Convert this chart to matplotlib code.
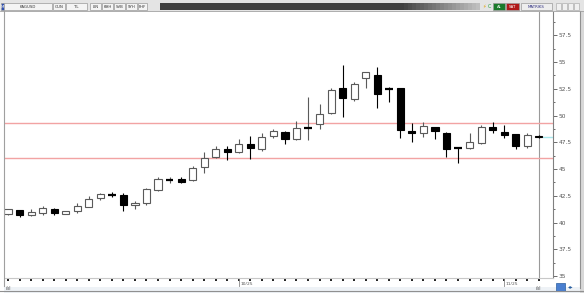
import numpy as np
import matplotlib
matplotlib.use('Agg')
import matplotlib.pyplot as plt
from matplotlib.patches import Rectangle
import matplotlib.transforms as mtransforms

# daily OHLC
opens = [40.80, 41.17, 40.68, 40.86, 41.24, 40.80, 41.08, 41.50, 42.27, 42.62,
         42.57, 41.61, 41.80, 43.04, 43.96, 44.07, 43.98, 45.16, 46.15, 46.90,
         46.62, 47.34, 46.85, 48.05, 48.49, 47.81, 48.84, 49.21, 50.27, 52.55,
         51.52, 53.48, 53.79, 52.47, 52.55, 48.58, 48.40, 48.96, 48.40, 47.03,
         47.00, 47.46, 48.90, 48.49, 48.25, 47.15, 48.12]
highs = [41.30, 41.20, 41.24, 41.55, 41.36, 41.10, 41.80, 42.48, 42.79, 42.88,
         42.73, 41.99, 43.20, 44.23, 44.29, 44.23, 45.29, 46.62, 47.15, 47.15,
         47.78, 48.09, 48.34, 48.74, 48.58, 49.52, 51.70, 51.07, 52.55, 54.72,
         53.16, 54.10, 54.50, 52.70, 52.55, 49.28, 49.43, 48.96, 48.49, 47.03,
         48.34, 49.12, 49.43, 49.12, 48.25, 48.34, 48.15]
lows = [40.75, 40.55, 40.65, 40.68, 40.74, 40.78, 40.86, 41.43, 42.10, 42.36,
        41.10, 41.30, 41.64, 42.98, 43.67, 43.67, 43.88, 44.66, 46.00, 45.85,
        46.53, 45.94, 46.66, 47.95, 47.34, 47.72, 47.72, 48.71, 50.12, 49.89,
        51.36, 52.55, 50.68, 51.30, 47.87, 47.50, 47.97, 47.81, 46.15, 45.60,
        46.85, 47.31, 48.40, 47.87, 46.85, 46.94, 47.95]
closes = [41.24, 40.68, 41.00, 41.36, 40.86, 41.08, 41.57, 42.20, 42.64, 42.58,
          41.64, 41.86, 43.10, 44.04, 44.00, 43.82, 45.13, 46.00, 46.87, 46.62,
          47.34, 47.00, 47.97, 48.57, 47.78, 48.86, 48.88, 50.12, 52.39, 51.61,
          52.95, 54.10, 52.01, 52.43, 48.65, 48.40, 49.02, 48.58, 46.85, 47.00,
          47.56, 48.96, 48.65, 48.18, 47.15, 48.18, 47.97]
date_idx = [20, 43]
date_labels = ['10/25', '11/25']
hlines_lvls = [49.3, 46.03]
yticks = [35, 37.5, 40, 42.5, 45, 47.5, 50, 52.5, 55, 57.5]

W, H = 584, 293
def fx(x): return x / W
def fy(y): return 1 - y / H

fig = plt.figure(figsize=(W / 100, H / 100), dpi=100)
fig.patch.set_facecolor('white')

ax = fig.add_axes([fx(5), fy(278), fx(553) - fx(5), fy(12) - fy(278)])
n = len(opens)
xs = np.arange(n)
o = np.array(opens); c = np.array(closes); hi = np.array(highs); lo = np.array(lows)

# current bar marker, support/resistance, last price
ax.axvline(n - 1, color='#9a9a9a', lw=0.8, zorder=0)
for lv in hlines_lvls:
    ax.axhline(lv, color='#f2a3a3', lw=1.0, zorder=1)
ax.plot([n - 0.6, n + 1.5], [c[-1], c[-1]], color='#a8e8ec', lw=1.0, zorder=1)

up = c >= o
for i in range(n):
    col = '#5a5a5a' if up[i] else 'black'
    ax.vlines(i, lo[i], hi[i], color=col, lw=0.8, zorder=2)
    if abs(c[i] - o[i]) < 0.12:
        ax.hlines((o[i] + c[i]) / 2, i - 0.33, i + 0.33, color='black', lw=1.6, zorder=3)
    elif up[i]:
        ax.bar(i, c[i] - o[i], bottom=o[i], width=0.62, facecolor='white',
               edgecolor='#5a5a5a', lw=0.8, zorder=3)
    else:
        ax.bar(i, o[i] - c[i], bottom=c[i], width=0.62, facecolor='black',
               edgecolor='black', lw=0.8, zorder=3)

ax.set_xlim(-0.26, 47.23)
ax.set_ylim(34.82, 59.68)
for s in ['top', 'left']:
    ax.spines[s].set_visible(False)
ax.spines['right'].set_color('#808080')
ax.spines['right'].set_linewidth(0.8)
ax.spines['bottom'].set_color('#c8c8c8')
ax.spines['bottom'].set_linewidth(0.8)
ax.yaxis.tick_right()
ax.set_yticks(yticks)
ax.set_yticklabels([('%g' % v) for v in yticks], fontsize=4.2, color='#555555')
ax.set_yticks([v + 1.25 for v in yticks], minor=True)
ax.tick_params(axis='y', which='major', length=3, width=0.6, color='#555555', pad=1)
ax.tick_params(axis='y', which='minor', length=1.5, width=0.6, color='#555555')
ax.set_xticks(xs)
ax.set_xticklabels([])
ax.tick_params(axis='x', length=1.8, width=1.4, color='#222222', pad=0)

# date labels below the axis
trans = mtransforms.blended_transform_factory(ax.transData, fig.transFigure)
for i, lab in zip(date_idx, date_labels):
    fig.add_artist(plt.Line2D([i, i], [fy(279), fy(286)], transform=trans,
                              color='#888888', lw=0.6))
    fig.text(i + 0.15, fy(284), lab, transform=trans, fontsize=3.2,
             color='#555555', va='center', ha='left')

# frame borders
fig.add_artist(plt.Line2D([fx(4), fx(4)], [fy(11), fy(286)], transform=fig.transFigure,
                          color='#a0a0a0', lw=0.8))
fig.add_artist(Rectangle((fx(580), 0), fx(4), 1, transform=fig.transFigure,
                         facecolor='#d8d8d8', edgecolor='none'))
fig.add_artist(plt.Line2D([fx(580), fx(580)], [fy(11), fy(288)], transform=fig.transFigure,
                          color='#909090', lw=0.8))

# bottom strip
fig.add_artist(Rectangle((fx(4), 0), fx(576), fy(287), transform=fig.transFigure,
                         facecolor='#eef2f6', edgecolor='none'))
fig.add_artist(plt.Line2D([0, 1], [fy(291), fy(291)], transform=fig.transFigure,
                          color='#909090', lw=0.8))
fig.text(fx(6), fy(289), 'ılıl', fontsize=3.5, color='#555555', va='center')
fig.text(fx(536), fy(289), 'ılıl', fontsize=3.5, color='#555555', va='center')
fig.add_artist(Rectangle((fx(556), fy(291)), fx(9), fy(283) - fy(291), transform=fig.transFigure,
                         facecolor='#4a7fd0', edgecolor='#2a5fa0', lw=0.5))
fig.text(fx(568), fy(287), '◂▸', fontsize=4, color='#2a5fa0', va='center')

# top toolbar
fig.add_artist(Rectangle((0, fy(11)), 1, fy(0) - fy(11), transform=fig.transFigure,
                         facecolor='#e4e4e4', edgecolor='none'))
fig.add_artist(plt.Line2D([0, 1], [fy(11), fy(11)], transform=fig.transFigure,
                          color='#a0a0a0', lw=0.6))
boxes = [(1, 3, 'M', '#3050b0', 'white'), (4, 48, 'KAGUSD', '#f4f4f4', '#333333'),
         (53, 12, 'GUN', '#f4f4f4', '#333333'), (66, 21, 'TL', '#f4f4f4', '#333333'),
         (90, 11, 'LIN', '#f4f4f4', '#333333'), (102, 11, 'KHH', '#f4f4f4', '#333333'),
         (114, 11, 'SVB', '#f4f4f4', '#333333'), (126, 11, 'SYH', '#f4f4f4', '#333333'),
         (138, 9, 'FHF', '#f4f4f4', '#333333'),
         (493, 12, 'AL', '#1a7a2a', 'white'), (506, 13, 'SAT', '#b01818', 'white'),
         (521, 31, 'MATRIKS', '#eeeeee', '#303080')]
for x0, w, lab, fc, tc in boxes:
    fig.add_artist(Rectangle((fx(x0), fy(10)), fx(w), fy(3) - fy(10), transform=fig.transFigure,
                             facecolor=fc, edgecolor='#9a9a9a', lw=0.5))
    fig.text(fx(x0 + w / 2), fy(6.5), lab, fontsize=2.8, color=tc, ha='center', va='center')
fig.add_artist(Rectangle((fx(160), fy(10)), fx(320), fy(3) - fy(10), transform=fig.transFigure,
                         facecolor='#404040', edgecolor='none'))
for k in range(20):
    g = 0.25 + 0.5 * k / 19
    fig.add_artist(Rectangle((fx(400 + k * 4), fy(10)), fx(4), fy(3) - fy(10),
                             transform=fig.transFigure, facecolor=(g, g, g), edgecolor='none'))
fig.text(fx(484), fy(6.5), '⚡', fontsize=3.5, color='#e0a000', ha='center', va='center')
fig.text(fx(489), fy(6.5), 'C', fontsize=3.5, color='#20a040', ha='center', va='center')
for k in range(4):
    fig.add_artist(Rectangle((fx(556 + k * 6), fy(10)), fx(5), fy(3) - fy(10), transform=fig.transFigure,
                             facecolor='#f0f0f0', edgecolor='#b0b0b0', lw=0.5))

fig.savefig('out.png', dpi=100)
